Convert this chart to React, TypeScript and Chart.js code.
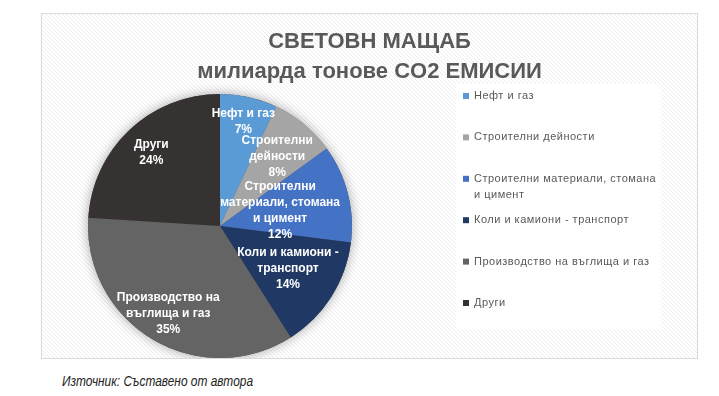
import React, { useEffect, useRef } from "react";
import { Chart, registerables } from "chart.js";

Chart.register(...registerables);

const titleLines = ["СВЕТОВН МАЩАБ", "милиарда тонове CO2 ЕМИСИИ"];
const categories = [
  "Нефт и газ",
  "Строителни дейности",
  "Строителни материали, стомана и цимент",
  "Коли и камиони - транспорт",
  "Производство на въглища и газ",
  "Други",
];
const shares = [7, 8, 12, 14, 35, 24];
const sliceColors = ["#5B9BD5", "#A5A5A5", "#4472C4", "#203864", "#646464", "#363232"];
const labelRadius = [0.81, 0.68, 0.47, 0.61, 0.77, 0.76];
const sourceNote = "Източник: Съставено от автора";

function wrap(ctx: CanvasRenderingContext2D, text: string, maxW: number): string[] {
  const words = text.split(" ");
  const lines: string[] = [];
  let cur = "";
  for (const w of words) {
    const t = cur ? cur + " " + w : w;
    if (cur && ctx.measureText(t).width > maxW) {
      lines.push(cur);
      cur = w;
    } else cur = t;
  }
  if (cur) lines.push(cur);
  return lines;
}

const decorPlugin = {
  id: "decor",
  beforeDraw(chart: any) {
    const { ctx, width, height } = chart;
    ctx.save();
    ctx.fillStyle = "#ffffff";
    ctx.fillRect(0, 0, width, height);
    ctx.strokeStyle = "#eeeeee";
    ctx.lineWidth = 1;
    ctx.beginPath();
    for (let k = -height; k < width; k += 4) {
      ctx.moveTo(k, 0);
      ctx.lineTo(k + height, height);
    }
    ctx.stroke();
    // title
    ctx.fillStyle = "#595959";
    ctx.font = "bold 22px 'Liberation Sans', Arial, sans-serif";
    ctx.textAlign = "center";
    ctx.textBaseline = "middle";
    titleLines.forEach((t, i) => ctx.fillText(t, width / 2, 28 + i * 30));
    // legend box
    ctx.fillStyle = "#ffffff";
    ctx.fillRect(414, 70, 205, 245);
    const ds = chart.data.datasets[0];
    ctx.font = "11px 'Liberation Sans', Arial, sans-serif";
    (ctx as any).letterSpacing = "0.5px";
    ctx.textAlign = "left";
    chart.data.labels.forEach((lab: string, i: number) => {
      const y = 82 + i * 41.4;
      ctx.fillStyle = ds.backgroundColor[i];
      ctx.fillRect(421, y - 3, 6, 6);
      ctx.fillStyle = "#595959";
      const lines = wrap(ctx, lab, 186);
      lines.forEach((l, j) => ctx.fillText(l, 432, y + j * 16));
    });
    (ctx as any).letterSpacing = "0px";
    ctx.restore();
  },
  beforeDatasetsDraw(chart: any) {
    const meta = chart.getDatasetMeta(0);
    const arc = meta.data[0];
    if (!arc) return;
    const { ctx } = chart;
    ctx.save();
    ctx.shadowColor = "rgba(0,0,0,0.35)";
    ctx.shadowBlur = 12;
    ctx.fillStyle = "#555";
    ctx.beginPath();
    ctx.arc(arc.x, arc.y, arc.outerRadius, 0, Math.PI * 2);
    ctx.fill();
    ctx.restore();
  },
  afterDatasetsDraw(chart: any) {
    const meta = chart.getDatasetMeta(0);
    const { ctx } = chart;
    const vals: number[] = chart.data.datasets[0].data;
    const total = vals.reduce((a, b) => a + b, 0);
    ctx.save();
    ctx.font = "bold 12px 'Liberation Sans', Arial, sans-serif";
    ctx.fillStyle = "#ffffff";
    ctx.textAlign = "center";
    ctx.textBaseline = "middle";
    meta.data.forEach((a: any, i: number) => {
      const mid = (a.startAngle + a.endAngle) / 2;
      const r = a.outerRadius * labelRadius[i];
      const cx = a.x + Math.cos(mid) * r;
      const cy = a.y + Math.sin(mid) * r;
      const lines = wrap(ctx, chart.data.labels[i], 122);
      lines.push(Math.round((vals[i] / total) * 100) + "%");
      const h = (lines.length - 1) * 16;
      lines.forEach((l, j) => ctx.fillText(l, cx, cy - h / 2 + j * 16));
    });
    ctx.restore();
  },
};

export default function App() {
  const ref = useRef<HTMLCanvasElement>(null);
  useEffect(() => {
    if (!ref.current) return;
    const chart = new Chart(ref.current, {
      type: "pie",
      data: {
        labels: categories,
        datasets: [
          {
            data: shares,
            backgroundColor: sliceColors,
            borderWidth: 0,
          },
        ],
      },
      options: {
        animation: false,
        responsive: false,
        layout: { padding: { top: 80, bottom: 0, left: 46, right: 345 } },
        plugins: {
          legend: { display: false },
          title: { display: false },
          tooltip: { enabled: false },
        },
      },
      plugins: [decorPlugin],
    });
    return () => chart.destroy();
  }, []);
  return (
    <div style={{ position: "fixed", left: 0, top: 0, width: 719, height: 396, background: "#fff" }}>
      <div
        style={{
          position: "absolute",
          left: 41,
          top: 13,
          width: 657,
          height: 346,
          border: "1px solid #d9d9d9",
          boxSizing: "border-box",
        }}
      >
        <canvas ref={ref} width={655} height={344} style={{ display: "block", width: 655, height: 344 }} />
      </div>
      <div
        style={{
          position: "absolute",
          left: 62,
          top: 373,
          fontFamily: "'Liberation Sans', Arial, sans-serif",
          fontStyle: "italic",
          fontSize: 14,
          color: "#222",
          whiteSpace: "nowrap",
          transform: "scaleX(0.85)",
          transformOrigin: "left center",
        }}
      >
        {sourceNote}
      </div>
    </div>
  );
}
